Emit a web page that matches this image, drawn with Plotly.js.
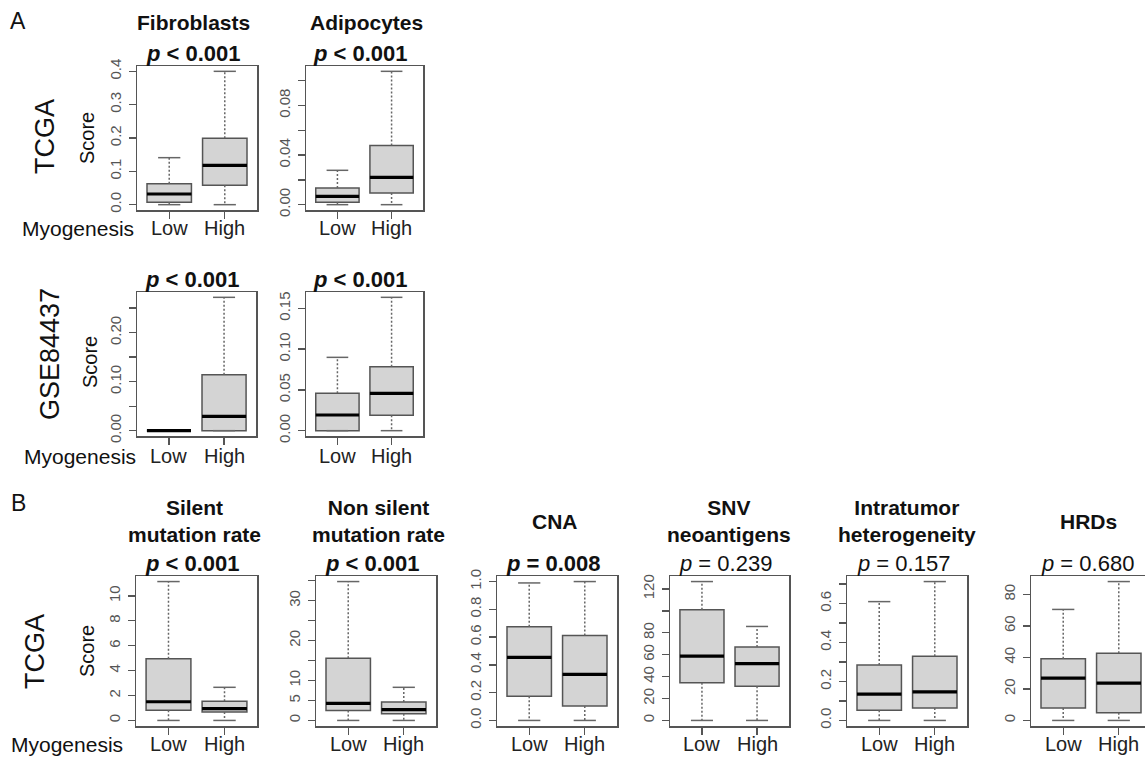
<!DOCTYPE html>
<html>
<head>
<meta charset="utf-8">
<script src="https://cdn.plot.ly/plotly-3.0.1.min.js"></script>
<style>html,body{margin:0;padding:0;background:#fff;}#chart{width:1145px;height:757px;}</style>
</head>
<body>
<div id="chart"></div>
<script>
// ---------------- DATA (five-number summaries: [lower whisker, Q1, median, Q3, upper whisker]) ----------------
const groups = ['Low', 'High'];

const tcgaFibroblasts   = [[0, 0.007, 0.032, 0.063, 0.141], [0, 0.058, 0.118, 0.199, 0.400]];
const tcgaAdipocytes    = [[0, 0.0019, 0.0067, 0.0134, 0.0277], [0, 0.0094, 0.022, 0.0478, 0.1075]];
const gseFibroblasts    = [[0, 0, 0, 0, 0], [0, 0, 0.0293, 0.114, 0.272]];
const gseAdipocytes     = [[0, 0, 0.0192, 0.0458, 0.0899], [0, 0.0188, 0.0458, 0.0785, 0.1635]];
const silentMutation    = [[0, 0.82, 1.5, 4.95, 11.15], [0, 0.68, 0.95, 1.55, 2.66]];
const nonSilentMutation = [[0, 2.5, 4.3, 15.6, 34.8], [0, 1.7, 2.7, 4.65, 8.3]];
const cna               = [[0, 0.175, 0.454, 0.675, 0.99], [0, 0.104, 0.332, 0.612, 1.0]];
const snvNeoantigens    = [[0, 34.3, 58.8, 101, 126.8], [0, 31.2, 51.8, 67, 85.8]];
const intratumorHet     = [[0, 0.052, 0.135, 0.285, 0.61], [0, 0.064, 0.147, 0.329, 0.713]];
const hrds              = [[0, 7.96, 26.9, 39.1, 70.5], [0, 4.9, 23.7, 42.6, 88.2]];

// tick values and their printed labels (empty = tick without label)
const ticksFibroTCGA  = [0, 0.1, 0.2, 0.3, 0.4];
const labelsFibroTCGA = ['0.0', '0.1', '0.2', '0.3', '0.4'];
const ticksAdipoTCGA  = [0, 0.02, 0.04, 0.06, 0.08, 0.10];
const labelsAdipoTCGA = ['0.00', '', '0.04', '', '0.08', ''];
const ticksFibroGSE   = [0, 0.05, 0.10, 0.15, 0.20, 0.25];
const labelsFibroGSE  = ['0.00', '', '0.10', '', '0.20', ''];
const ticksAdipoGSE   = [0, 0.05, 0.10, 0.15];
const labelsAdipoGSE  = ['0.00', '0.05', '0.10', '0.15'];
const ticksSilent     = [0, 2, 4, 6, 8, 10];
const labelsSilent    = ['0', '2', '4', '6', '8', '10'];
const ticksNonSilent  = [0, 5, 10, 15, 20, 25, 30, 35];
const labelsNonSilent = ['0', '5', '10', '', '20', '', '30', ''];
const ticksCNA        = [0, 0.2, 0.4, 0.6, 0.8, 1.0];
const labelsCNA       = ['0.0', '0.2', '0.4', '0.6', '0.8', '1.0'];
const ticksSNV        = [0, 20, 40, 60, 80, 100, 120];
const labelsSNV       = ['0', '20', '40', '60', '80', '', '120'];
const ticksITH        = [0, 0.1, 0.2, 0.3, 0.4, 0.5, 0.6, 0.7];
const labelsITH       = ['0.0', '', '0.2', '', '0.4', '', '0.6', ''];
const ticksHRD        = [0, 20, 40, 60, 80];
const labelsHRD       = ['0', '20', '40', '60', '80'];

const titlesA = ['Fibroblasts', 'Adipocytes'];
const titlesB = ['Silent<br>mutation rate', 'Non silent<br>mutation rate', 'CNA', 'SNV<br>neoantigens', 'Intratumor<br>heterogeneity', 'HRDs'];
const pValues = ['< 0.001', '< 0.001', '< 0.001', '< 0.001', '< 0.001', '< 0.001', '= 0.008', '= 0.239', '= 0.157', '= 0.680'];
const pSignificant = [true, true, true, true, true, true, true, false, false, false];
const rowLabels = ['TCGA', 'GSE84437', 'TCGA'];

// ---------------- LAYOUT ----------------
const W = 1145, H = 757;
const fx = x => x / W, fy = y => 1 - y / H;
const FONT = 'Liberation Sans, Arial, Helvetica, sans-serif';
const AX = '#555';

// frame boxes in pixels: [left, top, right, bottom], plus gap for group labels
const panels = [
  {data: tcgaFibroblasts,   tv: ticksFibroTCGA, tt: labelsFibroTCGA, f: [137, 66, 257, 210], lg: 18},
  {data: tcgaAdipocytes,    tv: ticksAdipoTCGA, tt: labelsAdipoTCGA, f: [306, 66, 423, 210], lg: 18},
  {data: gseFibroblasts,    tv: ticksFibroGSE,  tt: labelsFibroGSE,  f: [137, 292, 256, 436], lg: 20},
  {data: gseAdipocytes,     tv: ticksAdipoGSE,  tt: labelsAdipoGSE,  f: [306, 292, 423, 436], lg: 20},
  {data: silentMutation,    tv: ticksSilent,    tt: labelsSilent,    f: [136, 576, 257, 726], lg: 18},
  {data: nonSilentMutation, tv: ticksNonSilent, tt: labelsNonSilent, f: [316, 576, 436, 726], lg: 18},
  {data: cna,               tv: ticksCNA,       tt: labelsCNA,       f: [497, 576, 617, 726], lg: 18},
  {data: snvNeoantigens,    tv: ticksSNV,       tt: labelsSNV,       f: [670, 576, 789, 726], lg: 18},
  {data: intratumorHet,     tv: ticksITH,       tt: labelsITH,       f: [847, 576, 967, 726], lg: 18},
  {data: hrds,              tv: ticksHRD,       tt: labelsHRD,       f: [1031, 576, 1151, 726], lg: 18}
];

const traces = [];
const layout = {
  width: W, height: H,
  margin: {l: 0, r: 0, t: 0, b: 0},
  paper_bgcolor: '#fff', plot_bgcolor: '#fff',
  showlegend: false,
  font: {family: FONT, color: '#111'},
  annotations: []
};

const pos = [1, 2];
const boxHalf = 0.4, capHalf = 0.2;

function ann(text, x, y, size, opts) {
  layout.annotations.push(Object.assign({xref: 'paper', yref: 'paper', x: fx(x), y: fy(y),
    xanchor: 'center', yanchor: 'middle', showarrow: false, text: text,
    font: {size: size, color: '#111', family: FONT}}, opts || {}));
}

panels.forEach((p, i) => {
  const n = i + 1;
  const xa = 'x' + (n === 1 ? '' : n), ya = 'y' + (n === 1 ? '' : n);
  const d = p.data;
  const col = k => d.map(s => s[k]);
  const lower = col(0), q1 = col(1), med = col(2), q3 = col(3), upper = col(4);

  const wx = [], wy = [], cx = [], cy = [], mx = [], my = [];
  pos.forEach((x, g) => {
    wx.push(x, x, null, x, x, null);
    wy.push(q3[g], upper[g], null, q1[g], lower[g], null);
    cx.push(x - capHalf, x + capHalf, null, x - capHalf, x + capHalf, null);
    cy.push(upper[g], upper[g], null, lower[g], lower[g], null);
    mx.push(x - boxHalf, x + boxHalf, null);
    my.push(med[g], med[g], null);
  });
  // dashed whiskers
  traces.push({type: 'scatter', mode: 'lines', x: wx, y: wy, xaxis: xa, yaxis: ya,
    line: {color: '#666', width: 1.5, dash: '2px,2px'}, hoverinfo: 'skip'});
  // boxes (Q1..Q3)
  traces.push({type: 'box', x: pos, q1: q1, median: med, q3: q3, lowerfence: q1, upperfence: q3,
    width: 0.8, xaxis: xa, yaxis: ya, fillcolor: '#d4d4d4', line: {color: '#555', width: 1.5},
    whiskerwidth: 0, boxpoints: false, hoverinfo: 'skip'});
  // staples
  traces.push({type: 'scatter', mode: 'lines', x: cx, y: cy, xaxis: xa, yaxis: ya,
    line: {color: '#666', width: 1.5}, hoverinfo: 'skip'});
  // medians
  traces.push({type: 'scatter', mode: 'lines', x: mx, y: my, xaxis: xa, yaxis: ya,
    line: {color: '#000', width: 3.2}, hoverinfo: 'skip'});

  // R-style range: data range extended by 4%
  const lo = Math.min(...lower), hi = Math.max(...upper), pad = 0.04 * (hi - lo);
  const [L, T, R, B] = p.f;
  const Rc = Math.min(R, W);
  const xr = [0.42, 0.42 + 2.16 * (Rc - L) / (R - L)];

  layout['xaxis' + (n === 1 ? '' : n)] = {
    domain: [fx(L), fx(Rc)], range: xr, anchor: ya,
    tickmode: 'array', tickvals: pos, ticktext: groups, showticklabels: false,
    ticks: 'outside', ticklen: 7, tickwidth: 1.3, tickcolor: AX,
    showline: true, mirror: true, linecolor: AX, linewidth: 1.5,
    showgrid: false, zeroline: false, fixedrange: true
  };
  layout['yaxis' + (n === 1 ? '' : n)] = {
    domain: [fy(B), fy(T)], range: [lo - pad, hi + pad], anchor: xa,
    tickmode: 'array', tickvals: p.tv, ticktext: p.tt, tickangle: -90,
    ticks: 'outside', ticklen: 7, tickwidth: 1.3, tickcolor: AX,
    tickfont: {size: 15, color: '#555', family: FONT}, ticklabelstandoff: 2,
    showline: true, mirror: true, linecolor: AX, linewidth: 1.5,
    showgrid: false, zeroline: false, fixedrange: true
  };

  // group labels (Low / High) placed on the x scale
  groups.forEach((g, k) => {
    layout.annotations.push({xref: xa, yref: 'paper', x: pos[k], y: fy(B + p.lg),
      xanchor: 'center', yanchor: 'middle', showarrow: false, text: g,
      font: {size: 20, color: '#222', family: FONT}});
  });

  // p-value label above the frame
  const ptxt = pSignificant[i] ? '<b><i>p</i> ' + pValues[i].replace('<', '&lt;') + '</b>'
                               : '<i>p</i> ' + pValues[i].replace('<', '&lt;');
  ann(ptxt, (L + R) / 2 - 4, T - 13, 22);
});

// panel titles
ann('<b>' + titlesA[0] + '</b>', 193, 23, 21);
ann('<b>' + titlesA[1] + '</b>', 366, 23, 21);
const bCenters = [194, 378, 555, 729, 907, 1088];
titlesB.forEach((t, k) => ann('<b>' + t + '</b>', bCenters[k], 521, 21));

// panel letters
ann('A', 18, 21, 23);
ann('B', 18, 503, 23);

// row labels
ann(rowLabels[0], 45, 137, 27, {textangle: -90});
ann(rowLabels[1], 50, 354, 27, {textangle: -90});
ann(rowLabels[2], 35, 652, 27, {textangle: -90});

// y-axis titles
ann('Score', 87, 138, 20, {textangle: -90});
ann('Score', 90, 362, 20, {textangle: -90});
ann('Score', 87, 651, 20, {textangle: -90});

// grouping label
ann('Myogenesis', 78, 228, 21);
ann('Myogenesis', 80, 456, 21);
ann('Myogenesis', 67, 744, 21);

Plotly.newPlot('chart', traces, layout, {staticPlot: true, displayModeBar: false});
</script>
</body>
</html>
